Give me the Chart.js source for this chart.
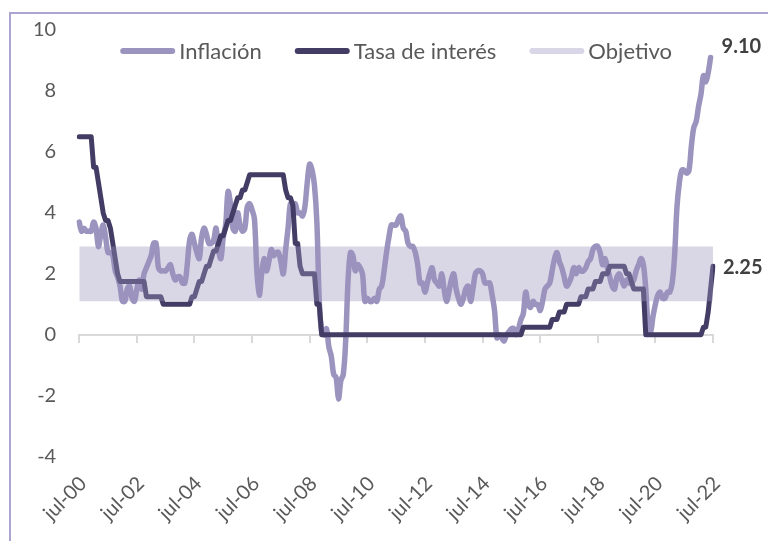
<!DOCTYPE html>
<html lang="es">
<head>
  <meta charset="UTF-8">
  <title>Inflación y tasa de interés</title>
  <style>
    html, body { margin: 0; padding: 0; background: #fff; }
    body { width: 768px; height: 541px; overflow: hidden; position: relative; }
    .marco {
      position: absolute; left: 9px; top: 12px; width: 800px; height: 600px;
      border-top: 2px solid #aba6cf; border-left: 2px solid #aba6cf;
    }
    .lienzo { position: absolute; left: 0; top: 0; width: 768px; height: 541px; }
  </style>
</head>
<body>
  <div class="marco"></div>
  <div class="lienzo"><canvas id="grafico"></canvas></div>

  <script src="https://cdn.jsdelivr.net/npm/chart.js"></script>
  <script>
    // meses jul-00 ... jul-22
    const meses = ['ene','feb','mar','abr','may','jun','jul','ago','sep','oct','nov','dic'];
    const etiquetas = [];
    for (let a = 2000; a <= 2022; a++) {
      for (let m = 0; m < 12; m++) {
        if (a === 2000 && m < 6) continue;
        if (a === 2022 && m > 6) break;
        etiquetas.push(meses[m] + '-' + String(a).slice(2));
      }
    }

    // inflación anual (%), jul-00 a jun-22
    const inflacion = [
      3.7, 3.4, 3.5, 3.4, 3.4, 3.4,
      3.7, 3.5, 2.9, 3.3, 3.6, 3.2, 2.7, 2.7, 2.6, 2.1, 1.9, 1.6,
      1.1, 1.1, 1.5, 1.6, 1.2, 1.1, 1.5, 1.8, 1.5, 2.0, 2.2, 2.4,
      2.6, 3.0, 3.0, 2.2, 2.1, 2.1, 2.1, 2.2, 2.3, 2.0, 1.8, 1.9,
      1.9, 1.7, 1.7, 2.3, 3.1, 3.3, 3.0, 2.7, 2.5, 3.2, 3.5, 3.3,
      3.0, 3.0, 3.1, 3.5, 2.8, 2.5, 3.2, 3.6, 4.7, 4.3, 3.5, 3.4,
      4.0, 3.6, 3.4, 3.5, 4.2, 4.3, 4.1, 3.8, 2.1, 1.3, 2.0, 2.5,
      2.1, 2.4, 2.8, 2.6, 2.7, 2.7, 2.4, 2.0, 2.8, 3.5, 4.3, 4.1,
      4.3, 4.0, 4.0, 3.9, 4.2, 5.0, 5.6, 5.4, 4.9, 3.7, 1.1, 0.1,
      0.0, 0.2, -0.4, -0.7, -1.3, -1.4, -2.1, -1.5, -1.3, -0.2, 1.8, 2.7,
      2.6, 2.1, 2.3, 2.2, 2.0, 1.1, 1.2, 1.1, 1.1, 1.2, 1.1, 1.5,
      1.6, 2.1, 2.7, 3.2, 3.6, 3.6, 3.6, 3.8, 3.9, 3.5, 3.4, 3.0,
      2.9, 2.9, 2.7, 2.3, 1.7, 1.7, 1.4, 1.7, 2.0, 2.2, 1.8, 1.7,
      1.6, 2.0, 1.5, 1.1, 1.4, 1.8, 2.0, 1.5, 1.2, 1.0, 1.2, 1.5,
      1.6, 1.1, 1.5, 2.0, 2.1, 2.1, 2.0, 1.7, 1.7, 1.7, 1.3, 0.8,
      -0.1, 0.0, -0.1, -0.2, 0.0, 0.1, 0.2, 0.2, 0.0, 0.2, 0.5, 0.7,
      1.4, 1.0, 0.9, 1.1, 1.0, 1.0, 0.8, 1.1, 1.5, 1.6, 1.7, 2.1,
      2.5, 2.7, 2.4, 2.2, 1.9, 1.6, 1.7, 1.9, 2.2, 2.0, 2.2, 2.1,
      2.1, 2.2, 2.4, 2.5, 2.8, 2.9, 2.9, 2.7, 2.3, 2.5, 2.2, 1.9,
      1.6, 1.5, 1.9, 2.0, 1.8, 1.6, 1.8, 1.7, 1.7, 1.8, 2.1, 2.3,
      2.5, 2.3, 1.5, 0.3, 0.1, 0.6, 1.0, 1.3, 1.4, 1.2, 1.2, 1.4,
      1.4, 1.7, 2.6, 4.2, 5.0, 5.4, 5.4, 5.3, 5.4, 6.2, 6.8, 7.0,
      7.5, 7.9, 8.5, 8.3, 8.6, 9.1, null
    ];

    // tasa de interés (%), jul-00 a jul-22
    const tasa = [
      6.5, 6.5, 6.5, 6.5, 6.5, 6.5,
      5.5, 5.5, 5.0, 4.5, 4.0, 3.75, 3.75, 3.5, 3.0, 2.5, 2.0, 1.75,
      1.75, 1.75, 1.75, 1.75, 1.75, 1.75, 1.75, 1.75, 1.75, 1.75, 1.25, 1.25,
      1.25, 1.25, 1.25, 1.25, 1.25, 1.0, 1.0, 1.0, 1.0, 1.0, 1.0, 1.0,
      1.0, 1.0, 1.0, 1.0, 1.0, 1.25, 1.25, 1.5, 1.75, 1.75, 2.0, 2.25,
      2.25, 2.5, 2.75, 2.75, 3.0, 3.25, 3.25, 3.5, 3.75, 3.75, 4.0, 4.25,
      4.5, 4.5, 4.75, 4.75, 5.0, 5.25, 5.25, 5.25, 5.25, 5.25, 5.25, 5.25,
      5.25, 5.25, 5.25, 5.25, 5.25, 5.25, 5.25, 5.25, 4.75, 4.5, 4.5, 4.25,
      3.0, 3.0, 2.25, 2.0, 2.0, 2.0, 2.0, 2.0, 2.0, 1.0, 1.0, 0,
      0, 0, 0, 0, 0, 0, 0, 0, 0, 0, 0, 0,
      0, 0, 0, 0, 0, 0, 0, 0, 0, 0, 0, 0,
      0, 0, 0, 0, 0, 0, 0, 0, 0, 0, 0, 0,
      0, 0, 0, 0, 0, 0, 0, 0, 0, 0, 0, 0,
      0, 0, 0, 0, 0, 0, 0, 0, 0, 0, 0, 0,
      0, 0, 0, 0, 0, 0, 0, 0, 0, 0, 0, 0,
      0, 0, 0, 0, 0, 0, 0, 0, 0, 0, 0, 0.25,
      0.25, 0.25, 0.25, 0.25, 0.25, 0.25, 0.25, 0.25, 0.25, 0.25, 0.25, 0.5,
      0.5, 0.5, 0.75, 0.75, 0.75, 1.0, 1.0, 1.0, 1.0, 1.0, 1.0, 1.25,
      1.25, 1.25, 1.5, 1.5, 1.5, 1.75, 1.75, 1.75, 2.0, 2.0, 2.0, 2.25,
      2.25, 2.25, 2.25, 2.25, 2.25, 2.25, 2.0, 2.0, 1.75, 1.5, 1.5, 1.5,
      1.5, 1.5, 0, 0, 0, 0, 0, 0, 0, 0, 0, 0,
      0, 0, 0, 0, 0, 0, 0, 0, 0, 0, 0, 0,
      0, 0, 0.25, 0.25, 0.75, 1.5, 2.25
    ];

    // banda objetivo (%)
    const objetivoBajo = 1.1;
    const objetivoAlto = 2.9;

    const ejeY = { min: -4, max: 10, paso: 2 };
    const cadaMeses = 24;

    const fuente = 'Lato, "Open Sans", sans-serif';
    const grisTexto = '#595959';

    // leyenda dentro del area, centrada
    const leyendaPlugin = {
      id: 'leyenda',
      afterDraw(chart) {
        const c = chart.ctx, area = chart.chartArea;
        const items = chart.data.datasets.filter(d => d.enLeyenda);
        const largo = 55, hueco = 4, sep = 33;
        c.save();
        c.font = '22px ' + fuente;
        const anchos = items.map(d => c.measureText(d.label).width);
        let total = anchos.reduce((s, w) => s + largo + hueco + w, 0) + sep * (items.length - 1);
        let x = (area.left + area.right) / 2 - total / 2;
        const y = area.top + 21;
        items.forEach((d, i) => {
          c.strokeStyle = d.colorLeyenda;
          c.lineWidth = 6;
          c.lineCap = 'round';
          c.beginPath();
          c.moveTo(x + 3, y);
          c.lineTo(x + largo - 3, y);
          c.stroke();
          c.fillStyle = grisTexto;
          c.textBaseline = 'middle';
          c.textAlign = 'left';
          c.fillText(d.label, x + largo + hueco, y + 1);
          x += largo + hueco + anchos[i] + sep;
        });
        c.restore();
      }
    };

    // valor final de cada serie
    const finalPlugin = {
      id: 'valorFinal',
      afterDatasetsDraw(chart) {
        const c = chart.ctx;
        c.save();
        c.font = 'bold 20px ' + fuente;
        c.fillStyle = '#404040';
        c.textBaseline = 'middle';
        c.textAlign = 'left';
        chart.data.datasets.forEach(d => {
          if (!d.desplazaFinal) return;
          let k = d.data.length - 1;
          while (k >= 0 && d.data[k] == null) k--;
          const px = chart.scales.x.getPixelForValue(k);
          const py = chart.scales.y.getPixelForValue(d.data[k]);
          c.fillText(d.data[k].toFixed(2), px + d.desplazaFinal[0], py + d.desplazaFinal[1]);
        });
        c.restore();
      }
    };

    const soloMayores = axis => {
      axis.ticks = axis.ticks.filter(t => t.value % cadaMeses === 0);
    };

    new Chart(document.getElementById('grafico'), {
      type: 'line',
      data: {
        labels: etiquetas,
        datasets: [
          {
            label: 'Inflación',
            data: inflacion,
            borderColor: '#9b94be',
            colorLeyenda: '#9b94be',
            borderWidth: 5.5,
            tension: 0.35,
            pointRadius: 0,
            borderCapStyle: 'round',
            borderJoinStyle: 'round',
            fill: false,
            order: 2,
            enLeyenda: true,
            desplazaFinal: [11, -11]
          },
          {
            label: 'Tasa de interés',
            data: tasa,
            borderColor: '#433d65',
            colorLeyenda: '#433d65',
            borderWidth: 5,
            tension: 0,
            pointRadius: 0,
            borderCapStyle: 'round',
            borderJoinStyle: 'round',
            fill: false,
            order: 1,
            enLeyenda: true,
            desplazaFinal: [10, 1]
          },
          {
            label: 'objetivo bajo',
            data: etiquetas.map(() => objetivoBajo),
            borderWidth: 0,
            borderColor: 'rgba(0,0,0,0)',
            pointRadius: 0,
            fill: false,
            order: 0
          },
          {
            label: 'Objetivo',
            data: etiquetas.map(() => objetivoAlto),
            borderWidth: 0,
            borderColor: 'rgba(0,0,0,0)',
            backgroundColor: 'rgba(154,147,189,0.38)',
            colorLeyenda: '#d9d7e7',
            pointRadius: 0,
            fill: '-1',
            order: 0,
            enLeyenda: true
          }
        ]
      },
      options: {
        responsive: true,
        maintainAspectRatio: false,
        animation: false,
        devicePixelRatio: 1,
        events: [],
        layout: { padding: { left: 10, top: 30, right: 55, bottom: 1 } },
        plugins: {
          legend: { display: false },
          tooltip: { enabled: false }
        },
        scales: {
          x: {
            type: 'category',
            position: { y: 0 },
            afterBuildTicks: soloMayores,
            ticks: { display: false, autoSkip: false },
            grid: {
              drawOnChartArea: false,
              drawTicks: true,
              tickLength: 7,
              color: '#d9d9d9',
              lineWidth: 2
            },
            border: { display: true, color: '#d9d9d9', width: 2 }
          },
          x2: {
            type: 'category',
            position: 'bottom',
            afterBuildTicks: soloMayores,
            afterFit: s => { s.paddingLeft = 0; s.paddingRight = 0; },
            grid: { display: false, drawTicks: false },
            border: { display: false },
            ticks: {
              autoSkip: false,
              minRotation: 45,
              maxRotation: 45,
              padding: 15,
              labelOffset: 4,
              color: grisTexto,
              font: { family: fuente, size: 20 }
            }
          },
          y: {
            min: ejeY.min,
            max: ejeY.max,
            afterFit: s => { s.paddingTop = 0; s.paddingBottom = 0; },
            grid: { display: false, drawTicks: false },
            border: { display: false },
            ticks: {
              stepSize: ejeY.paso,
              padding: 23,
              color: grisTexto,
              font: { family: fuente, size: 20 }
            }
          }
        }
      },
      plugins: [leyendaPlugin, finalPlugin]
    });
  </script>
</body>
</html>
